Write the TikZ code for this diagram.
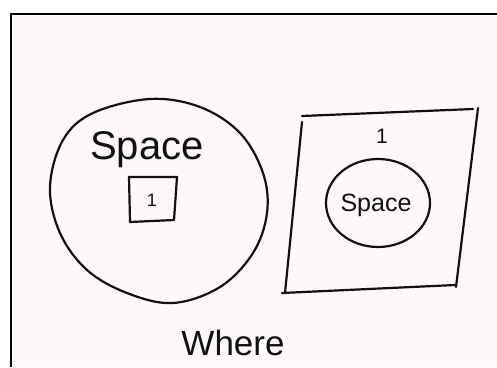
\documentclass[tikz,border=0pt]{standalone}
\usepackage{fontspec}
\setmainfont{Liberation Sans}
\definecolor{paper}{HTML}{FDF9F9}
\definecolor{ink}{HTML}{111111}
\begin{document}
\begin{tikzpicture}[x=1pt,y=-1pt,
  pen/.style={draw=ink,line width=2.2pt,line cap=round,line join=round},
  hand/.style={text=ink,inner sep=0pt,anchor=center}]
\useasboundingbox (0,0) rectangle (497,367);
\fill[white] (0,0) rectangle (497,367);
\fill[paper] (11,14) rectangle (497,367);
% frame
\draw[draw=black,line width=2pt] (11,367) -- (11,14) -- (497,14);
% big circle
\draw[pen] plot[smooth cycle,tension=0.6] coordinates {(50,187) (63,140) (93,113) (150,99) (200,107) (240,133) (263,173) (267,213) (253,253) (220,287) (173,303) (127,293) (87,270) (60,233)};
\node[hand,font=\fontsize{40}{40}\selectfont] (spaceL) at (147,150) {Space};
% small square
\draw[pen] (129,177) -- (177,177) -- (174,220) -- (130,222) -- cycle;
\node[hand,font=\fontsize{18}{18}\selectfont] (oneL) at (152,200) {1};
% right square (hand strokes)
\draw[pen] (302,116) -- (473,109);
\draw[pen] (478,108) -- (456,287);
\draw[pen] (302,122) -- (285,293);
\draw[pen] (282,293) -- (455,285);
\node[hand,font=\fontsize{21}{21}\selectfont] (oneR) at (382,136) {1};
% small circle
\draw[pen] (378,203) ellipse [x radius=52,y radius=44];
\node[hand,font=\fontsize{25}{25}\selectfont] (spaceR) at (376,205) {Space};
% caption
\node[hand,font=\fontsize{35}{35}\selectfont] (where) at (233,343) {Where};
\end{tikzpicture}
\end{document}
